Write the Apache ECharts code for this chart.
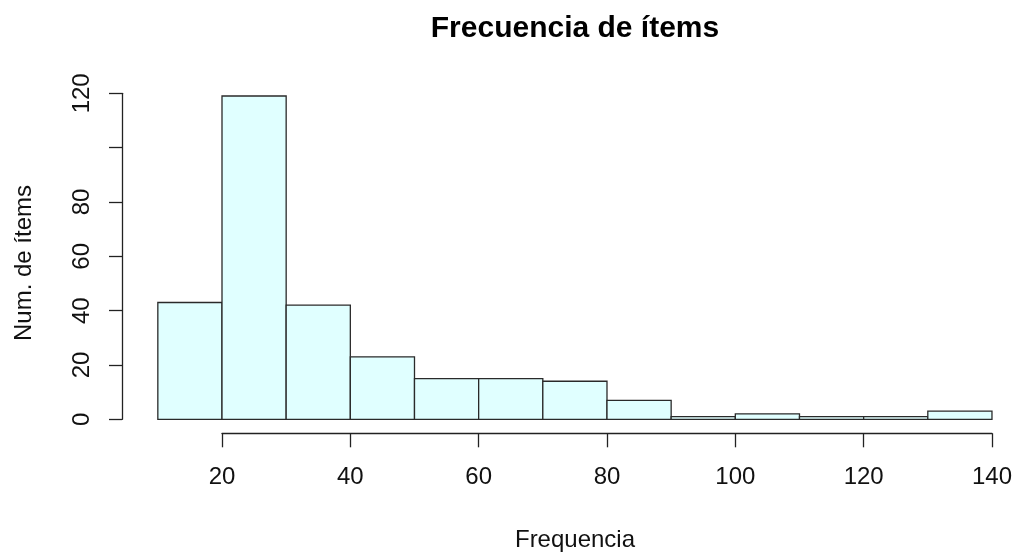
<!DOCTYPE html>
<html>
<head>
<meta charset="utf-8">
<script src="https://cdn.jsdelivr.net/npm/echarts@6/dist/echarts.min.js"></script>
<style>
html,body{margin:0;padding:0;background:#fff;}
#chart{width:1015px;height:554px;}
</style>
</head>
<body>
<div id="chart"></div>
<script>
// Histogram bins and counts
const binStarts = [10, 20, 30, 40, 50, 60, 70, 80, 90, 100, 110, 120, 130];
const binEnds   = [20, 30, 40, 50, 60, 70, 80, 90, 100, 110, 120, 130, 140];
const counts    = [43, 119, 42, 23, 15, 15, 14, 7, 1, 2, 1, 1, 3];
const yTickLabels = ['0', '20', '40', '60', '80', '', '120'];
const xTickLabels = ['20', '40', '60', '80', '100', '120', '140'];
const titleText = 'Frecuencia de ítems';
const xName = 'Frequencia';
const yName = 'Num. de ítems';

const FONT = '"Liberation Sans", Arial, sans-serif';
const data = binStarts.map((s, i) => [s, binEnds[i], counts[i]]);

const chart = echarts.init(document.getElementById('chart'), null, {renderer: 'canvas'});
chart.setOption({
  animation: false,
  backgroundColor: '#ffffff',
  grid: {left: 222, right: 21.7, top: 93.3, height: 326, containLabel: false},
  xAxis: {
    type: 'value', min: 20, max: 140, interval: 20,
    offset: 14,
    axisLine: {show: true, onZero: false, lineStyle: {color: '#222', width: 1.3}},
    axisTick: {show: true, length: 14, lineStyle: {color: '#222', width: 1.3}},
    axisLabel: {
      fontFamily: FONT, fontSize: 24, color: '#111', margin: 32,
      formatter: v => xTickLabels[Math.round((v - 20) / 20)]
    },
    splitLine: {show: false}
  },
  yAxis: {
    type: 'value', min: 0, max: 120, interval: 20,
    offset: 100,
    axisLine: {show: true, onZero: false, lineStyle: {color: '#222', width: 1.3}},
    axisTick: {show: true, length: 13, lineStyle: {color: '#222', width: 1.3}},
    axisLabel: {
      fontFamily: FONT, fontSize: 24, color: '#111', margin: 28, rotate: 90,
      formatter: v => yTickLabels[Math.round(v / 20)]
    },
    splitLine: {show: false}
  },
  graphic: [
    {type: 'text', x: 575, y: 29,
      style: {text: titleText, font: 'bold 30px ' + FONT, fill: '#000', textAlign: 'center', textVerticalAlign: 'middle'}},
    {type: 'text', x: 575, y: 540,
      style: {text: xName, font: '24px ' + FONT, fill: '#111', textAlign: 'center', textVerticalAlign: 'middle'}},
    {type: 'text', x: 24, y: 263, rotation: Math.PI / 2,
      style: {text: yName, font: '24px ' + FONT, fill: '#111', textAlign: 'center', textVerticalAlign: 'middle'}}
  ],
  series: [{
    type: 'custom',
    clip: false,
    encode: {x: [0, 1], y: 2},
    data: data,
    renderItem: function (params, api) {
      const p0 = api.coord([api.value(0), api.value(2)]);
      const p1 = api.coord([api.value(1), 0]);
      return {
        type: 'rect',
        shape: {x: p0[0], y: p0[1], width: p1[0] - p0[0], height: p1[1] - p0[1]},
        style: {fill: '#E0FFFF', stroke: '#2a2a2a', lineWidth: 1.3}
      };
    }
  }]
});
</script>
</body>
</html>
